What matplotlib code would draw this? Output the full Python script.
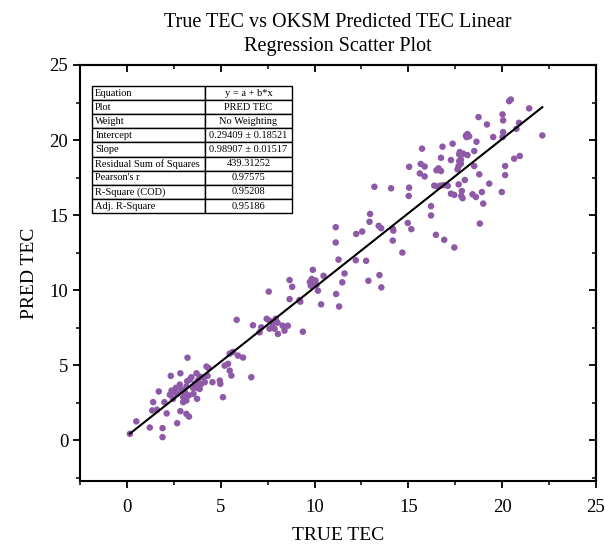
import matplotlib
matplotlib.use("Agg")
import matplotlib.pyplot as plt
from matplotlib.ticker import MultipleLocator

plt.rcParams['font.family'] = ['Liberation Serif', 'DejaVu Serif']

# ---- data ----
true_tec = [
    0.16, 0.50, 1.22, 1.90, 1.90, 1.35, 1.60, 1.40, 2.00, 1.70, 2.12,
    2.68, 2.85, 3.17, 3.31, 2.34, 2.85, 3.23,
    2.29, 2.38, 2.46, 2.61, 2.68, 2.82, 2.91, 3.00, 3.09, 3.17, 3.21, 3.35, 3.44,
    3.53, 3.62, 3.71, 3.79, 3.74, 3.88, 3.88, 4.06, 4.15, 4.24, 4.36, 3.74, 3.17,
    3.00, 2.50, 3.30, 3.55, 3.95, 4.30,
    4.56, 4.95, 4.98, 5.12, 5.21, 5.39, 5.48, 5.57, 5.48, 5.65, 5.92, 6.19, 6.63, 5.85,
    6.72, 7.16, 7.07, 7.45, 7.60, 7.77, 7.93, 8.03, 7.60, 7.87, 8.30, 8.40, 8.05,
    8.58, 9.38, 7.56, 8.67, 8.81, 8.67, 9.20, 9.24,
    9.91, 9.75, 9.85, 9.95, 10.05, 10.10, 9.80, 10.18, 10.35, 10.48, 11.15, 11.31,
    11.13, 11.13, 11.28, 11.60, 11.48,
    12.20, 12.22, 12.54, 12.75, 12.87, 13.46, 13.56, 12.96, 12.93, 13.19, 13.42, 13.55,
    14.08, 14.17, 14.20, 14.17, 14.68, 14.97, 15.16, 15.04, 15.04, 15.02,
    15.66, 15.87, 15.61, 15.87, 15.73, 16.21, 16.21, 16.47, 16.91, 16.38, 16.56,
    16.72, 16.90, 17.10, 16.82, 16.74, 16.61, 16.74, 16.50,
    17.36, 17.74, 17.93, 17.71, 18.15, 18.51, 18.07, 18.15, 18.24, 18.10, 18.63,
    17.27, 17.71, 17.80, 17.68, 17.62, 17.80, 18.51, 18.78, 17.68, 18.01, 17.27,
    17.45, 17.85, 17.82, 17.89, 18.42, 18.60, 18.92, 18.99, 18.81, 17.45, 18.74,
    19.19, 19.52, 19.31, 19.98, 20.02, 20.05, 20.05, 20.02, 20.90, 20.76, 20.37,
    20.46, 21.44, 22.14, 20.64, 20.94, 20.16, 20.16,
]
pred_tec = [
    0.44, 1.27, 0.86, 0.82, 0.22, 2.00, 2.05, 2.55, 2.55, 3.26, 1.80,
    1.15, 1.95, 1.77, 1.59, 4.30, 4.47, 5.51,
    3.04, 3.32, 2.77, 3.50, 3.10, 3.72, 3.37, 2.88, 3.21, 3.59, 3.94, 4.05, 4.21,
    3.50, 3.77, 4.47, 3.99, 3.50, 3.43, 4.25, 4.21, 3.88, 4.92, 4.81, 2.77, 2.66,
    2.55, 3.20, 3.00, 3.10, 3.75, 4.30,
    3.88, 3.99, 3.77, 2.88, 4.98, 5.10, 4.65, 4.32, 5.78, 5.89, 5.65, 5.52, 4.21, 8.03,
    7.67, 7.53, 7.20, 8.10, 7.97, 7.77, 8.10, 7.84, 7.44, 7.44, 7.64, 7.31, 7.09,
    7.64, 7.24, 9.91, 10.68, 10.23, 9.41, 9.35, 9.24,
    11.36, 10.55, 10.75, 10.45, 10.65, 10.35, 10.30, 9.97, 9.06, 10.96, 9.75, 8.92,
    14.20, 13.18, 12.04, 11.12, 10.53,
    12.00, 13.75, 13.91, 11.96, 10.63, 11.01, 10.19, 15.08, 14.56, 16.89, 14.29, 14.13,
    16.79, 14.10, 13.97, 13.31, 12.51, 14.48, 14.07, 18.22, 16.83, 16.28,
    18.41, 18.24, 17.78, 17.58, 19.43, 15.60, 14.98, 13.69, 13.36, 16.97, 16.90,
    16.97, 17.00, 16.95, 19.56, 18.82, 18.12, 17.94, 17.99,
    19.76, 19.20, 19.09, 19.05, 19.00, 19.27, 20.30, 20.40, 20.25, 20.20, 19.89,
    18.67, 18.60, 18.70, 18.27, 18.05, 18.43, 18.27, 17.72, 17.05, 17.34, 16.43,
    16.35, 16.61, 16.28, 16.13, 16.39, 16.21, 16.54, 15.77, 14.44, 12.85, 21.53,
    21.04, 20.20, 17.10, 16.54, 21.71, 21.31, 20.53, 20.20, 21.15, 20.75, 22.59,
    22.70, 22.11, 20.31, 18.76, 18.94, 18.27, 17.67,
]

intercept = 0.29409
slope = 0.98907

table_labels = ["Equation", "Plot", "Weight", "Intercept", "Slope",
                "Residual Sum of Squares", "Pearson's r", "R-Square (COD)",
                "Adj. R-Square"]
table_values = ["y = a + b*x", "PRED TEC", "No Weighting",
                "0.29409 \u00b1 0.18521", "0.98907 \u00b1 0.01517",
                "439.31252", "0.97575", "0.95208", "0.95186"]

x_ticks = [0, 5, 10, 15, 20, 25]
y_ticks = [0, 5, 10, 15, 20, 25]

# ---- figure ----
fig = plt.figure(figsize=(6.05, 5.53), dpi=100)
ax = fig.add_axes([0.1322, 0.1302, 0.8529, 0.7523])

ax.scatter(true_tec, pred_tec, s=22, color='#8e5aa8', edgecolors='none', zorder=3)

xl = [min(true_tec), max(true_tec)]
ax.plot(xl, [intercept + slope * v for v in xl], color='black', lw=1.5, zorder=4)

ax.set_xlim(-2.5, 25)
ax.set_ylim(-2.7, 25)
ax.set_xticks(x_ticks)
ax.set_yticks(y_ticks)
ax.xaxis.set_minor_locator(MultipleLocator(2.5))
ax.yaxis.set_minor_locator(MultipleLocator(2.5))
ax.tick_params(which='major', direction='out', length=5, width=1.3, labelsize=13.5)
ax.tick_params(which='minor', direction='out', length=3, width=1.1)
ax.tick_params(axis='x', pad=8)
for s in ax.spines.values():
    s.set_linewidth(1.5)

# mirrored inward ticks on top and right
top = ax.secondary_xaxis('top')
top.set_xticks(x_ticks)
top.xaxis.set_minor_locator(MultipleLocator(2.5))
top.tick_params(which='major', direction='in', length=5, width=1.3, labeltop=False)
top.tick_params(which='minor', direction='in', length=3, width=1.1)
top.spines['top'].set_linewidth(1.5)
right = ax.secondary_yaxis('right')
right.set_yticks(y_ticks)
right.yaxis.set_minor_locator(MultipleLocator(2.5))
right.tick_params(which='major', direction='in', length=5, width=1.3, labelright=False)
right.tick_params(which='minor', direction='in', length=3, width=1.1)
right.spines['right'].set_linewidth(1.5)

ax.set_xlabel("TRUE TEC", fontsize=14, labelpad=8)
ax.set_ylabel("PRED TEC", fontsize=14, labelpad=8)
ax.set_title("True TEC vs OKSM Predicted TEC Linear\nRegression Scatter Plot",
             fontsize=14.5, pad=10, linespacing=1.35)

cells = [[a, b] for a, b in zip(table_labels, table_values)]
tbl = ax.table(cellText=cells, cellLoc='center',
               bbox=[0.023, 0.644, 0.388, 0.3055], colWidths=[0.565, 0.435],
               zorder=5)
tbl.auto_set_font_size(False)
tbl.set_fontsize(7.5)
for (r, c), cell in tbl.get_celld().items():
    cell.set_linewidth(1.0)
    cell.set_edgecolor('black')
    cell.set_facecolor('white')
    if c == 0:
        cell.get_text().set_ha('left')
        cell.PAD = 0.03

fig.savefig("out.png", dpi=100)
